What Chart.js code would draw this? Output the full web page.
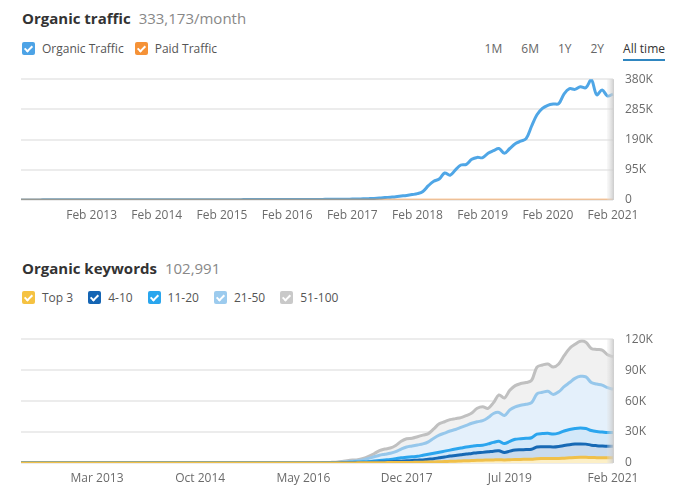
<!DOCTYPE html>
<html>
<head>
<meta charset="utf-8">
<script src="https://cdn.jsdelivr.net/npm/chart.js@4"></script>
<style>
  body { margin: 0; background: #fff; font-family: "Open Sans", "DejaVu Sans", sans-serif; width: 678px; height: 496px; position: relative; overflow: hidden; }
  .title { position: absolute; left: 22px; font-size: 15px; color: #333; font-weight: bold; white-space: nowrap; }
  .title span { font-weight: normal; color: #888; margin-left: 8px; }
  .legend { position: absolute; left: 22px; font-size: 12px; color: #555; display: flex; align-items: center; white-space: nowrap; }
  .legend .item { display: flex; align-items: center; margin-right: 15px; }
  .box { width: 13px; height: 13px; border-radius: 2px; position: relative; margin-right: 7px; }
  .box:after { content: ""; position: absolute; left: 4px; top: 1.5px; width: 3px; height: 6px; border: solid #fff; border-width: 0 2px 2px 0; transform: rotate(45deg); }
  .range { position: absolute; top: 40px; right: 13px; font-size: 12px; color: #666; display: flex; white-space: nowrap; }
  .range div { margin-left: 19px; padding-bottom: 2px; }
  .range .on { color: #333; border-bottom: 2px solid #2f86c0; }
  canvas { position: absolute; left: 0; }
</style>
</head>
<body>
<div class="title" style="top:8px">Organic traffic<span>333,173/month</span></div>
<div class="legend" style="top:40px">
  <div class="item" style="margin-right:11px"><div class="box" style="background:#4da3e6"></div>Organic Traffic</div>
  <div class="item"><div class="box" style="background:#f59237"></div>Paid Traffic</div>
</div>
<div class="range"><div>1M</div><div>6M</div><div>1Y</div><div>2Y</div><div class="on">All time</div></div>
<canvas id="trafficChart" width="678" height="170" style="top:60px"></canvas>

<div class="title" style="top:258px">Organic keywords<span>102,991</span></div>
<div class="legend" style="top:289px">
  <div class="item"><div class="box" style="background:#f5c242"></div>Top 3</div>
  <div class="item"><div class="box" style="background:#1565b4"></div>4-10</div>
  <div class="item"><div class="box" style="background:#2aa6ee"></div>11-20</div>
  <div class="item"><div class="box" style="background:#9ccbee"></div>21-50</div>
  <div class="item"><div class="box" style="background:#c9c9c9"></div>51-100</div>
</div>
<canvas id="keywordChart" width="678" height="170" style="top:320px"></canvas>

<script>
// 月ラベル (Jan 2012 - Feb 2021)
const monthNames = ['Jan', 'Feb', 'Mar', 'Apr', 'May', 'Jun', 'Jul', 'Aug', 'Sep', 'Oct', 'Nov', 'Dec'];
const firstYear = 2012;
const monthCount = 110;

// 流入数
const organicTraffic = [
  300, 320, 350, 380, 400, 420, 450, 470, 500, 520, 540, 560,
  580, 600, 620, 640, 660, 680, 700, 720, 740, 760, 780, 800,
  820, 840, 860, 880, 900, 920, 940, 960, 980, 1000, 1000, 1050,
  1050, 1100, 1100, 1150, 1150, 1200, 1200, 1250, 1250, 1300, 1300, 1350,
  1400, 1450, 1500, 1550, 1600, 1700, 1800, 1900, 2000, 2100, 2200, 2400,
  2600, 2900, 3200, 3600, 4200, 4900, 6000, 7500, 9000, 10500, 12500, 14500,
  17000, 20000, 27000, 45000, 59000, 66000, 85000, 78000, 95000, 110000, 112000, 128000,
  134000, 133000, 147000, 155000, 162000, 147000, 162000, 177000, 185000, 193000, 232000, 268000,
  288000, 298000, 302000, 303000, 334000, 350000, 348000, 356000, 353000, 379000, 331000, 346000,
  327000, 333173
];
const paidTraffic = [
  0, 0, 0, 0, 0, 0, 0, 0, 0, 0, 0, 0,
  0, 0, 0, 0, 0, 0, 0, 0, 0, 0, 0, 0,
  0, 0, 0, 0, 0, 0, 0, 0, 0, 0, 0, 0,
  0, 0, 0, 0, 0, 0, 0, 0, 0, 0, 0, 0,
  0, 0, 0, 0, 0, 0, 0, 0, 0, 0, 0, 0,
  0, 0, 0, 0, 0, 0, 0, 0, 0, 0, 0, 0,
  0, 0, 0, 0, 0, 0, 0, 0, 0, 0, 0, 0,
  0, 0, 0, 0, 0, 0, 0, 0, 0, 0, 0, 0,
  0, 0, 0, 0, 0, 0, 0, 0, 0, 0, 0, 0,
  0, 0
];
const trafficTicks = [0, 95000, 190000, 285000, 380000];

// キーワード数 (順位ごと、累積)
const top3 = [
  5, 5, 5, 5, 5, 5, 6, 6, 6, 6, 6, 6,
  7, 7, 7, 7, 7, 7, 8, 8, 8, 8, 8, 8,
  9, 9, 9, 9, 9, 9, 10, 10, 10, 10, 10, 10,
  11, 11, 11, 11, 11, 11, 12, 12, 12, 12, 12, 12,
  13, 13, 14, 14, 15, 15, 16, 18, 20, 25, 30, 50,
  80, 100, 130, 160, 200, 250, 300, 350, 400, 450, 500, 550,
  600, 700, 800, 900, 1000, 1200, 1400, 1600, 1800, 2000, 2200, 2400,
  2600, 2700, 2900, 3000, 3100, 3000, 3200, 3400, 3500, 3600, 3700, 4200,
  4300, 4300, 4300, 4400, 4700, 5000, 5300, 5500, 5500, 5300, 5200, 5100,
  5000, 5000
];
const top10 = [
  15, 15, 15, 15, 15, 15, 18, 18, 18, 18, 18, 18,
  20, 20, 20, 20, 20, 20, 22, 22, 22, 22, 22, 22,
  25, 25, 25, 25, 25, 25, 28, 28, 28, 28, 28, 28,
  30, 30, 30, 30, 30, 30, 33, 33, 33, 33, 33, 33,
  35, 35, 38, 38, 40, 40, 45, 50, 55, 65, 80, 150,
  220, 300, 380, 450, 550, 700, 850, 1000, 1200, 1500, 1800, 2100,
  2400, 2700, 3000, 3600, 4200, 5000, 5800, 6700, 7300, 8000, 8700, 9300,
  10000, 10300, 10800, 11500, 11800, 10200, 11500, 12500, 12800, 13000, 13300, 15500,
  15800, 15800, 15500, 16000, 17000, 17800, 18300, 18500, 18300, 17300, 16800, 16500,
  16300, 16300
];
const top20 = [
  30, 30, 30, 30, 35, 35, 35, 35, 40, 40, 40, 40,
  45, 45, 45, 45, 50, 50, 50, 50, 55, 55, 55, 55,
  60, 60, 60, 60, 65, 65, 65, 65, 70, 70, 70, 70,
  75, 75, 75, 75, 80, 80, 80, 80, 85, 85, 85, 85,
  90, 90, 95, 95, 100, 100, 110, 120, 140, 170, 200, 400,
  600, 800, 1000, 1200, 1500, 2000, 2500, 3000, 3500, 4200, 5000, 5500,
  6000, 6500, 7500, 8500, 9500, 10500, 11500, 12500, 13500, 14500, 15500, 16300,
  17000, 17200, 18500, 20000, 21000, 18800, 21000, 23000, 23500, 24000, 24500, 28000,
  28500, 28800, 28000, 29000, 31000, 32500, 33500, 34000, 33500, 31500, 30500, 30000,
  29500, 29500
];
const top50 = [
  80, 80, 85, 85, 90, 90, 95, 95, 100, 100, 105, 105,
  110, 110, 115, 115, 120, 120, 125, 125, 130, 130, 135, 135,
  140, 140, 145, 145, 150, 150, 155, 155, 160, 160, 165, 165,
  170, 170, 175, 175, 180, 180, 185, 185, 190, 190, 195, 195,
  200, 210, 220, 230, 240, 250, 270, 290, 320, 380, 500, 900,
  1300, 1700, 2200, 3000, 4500, 6000, 7500, 8500, 9500, 11000, 13500, 15500,
  16500, 17500, 18500, 20500, 24000, 27000, 29000, 31000, 32500, 34500, 36500, 38500,
  40000, 41000, 44000, 48000, 49000, 46000, 51500, 54500, 56000, 57000, 58500, 67000,
  68500, 69500, 66500, 69000, 74000, 78000, 82000, 84000, 83500, 78000, 76500, 75500,
  73000, 71500
];
const top100 = [
  150, 150, 160, 160, 170, 170, 180, 180, 190, 190, 200, 200,
  210, 210, 220, 220, 230, 230, 240, 240, 250, 250, 260, 260,
  270, 270, 280, 280, 290, 290, 300, 300, 310, 310, 320, 320,
  330, 330, 340, 340, 350, 350, 360, 360, 370, 370, 380, 380,
  400, 420, 440, 460, 480, 500, 520, 540, 560, 600, 800, 1500,
  2200, 2800, 3200, 4500, 6500, 9000, 12000, 13500, 14500, 17000, 21000, 23500,
  24000, 25500, 27000, 28500, 33000, 38000, 40000, 42000, 43000, 44000, 46000, 48500,
  53000, 54500, 53000, 58500, 66000, 63000, 70500, 75000, 77000, 78000, 80000, 93000,
  95000, 96000, 93000, 96000, 104000, 111000, 115000, 118000, 117000, 111000, 110000, 109500,
  105000, 103000
];
const keywordTicks = [0, 30000, 60000, 90000, 120000];

const months = [];
for (let i = 0; i < monthCount; i++) {
  months.push(monthNames[i % 12] + ' ' + (firstYear + Math.floor(i / 12)));
}

const tickFont = { family: '"Open Sans", sans-serif', size: 12 };

function kLabel(v) {
  return v === 0 ? '0' : (v / 1000) + 'K';
}

// 右端のグレーの帯
const edgeShade = {
  id: 'edgeShade',
  afterDatasetsDraw(chart) {
    const ctx = chart.ctx;
    const a = chart.chartArea;
    const g = ctx.createLinearGradient(a.right - 6, 0, a.right + 1, 0);
    g.addColorStop(0, 'rgba(225,225,225,0.2)');
    g.addColorStop(1, 'rgba(200,200,200,0.95)');
    ctx.save();
    ctx.fillStyle = g;
    ctx.fillRect(a.right - 6, a.top, 7, a.bottom - a.top);
    ctx.restore();
  }
};

function baseOptions(yTicks, xHeight, padTop, showTick) {
  return {
    responsive: false,
    animation: false,
    layout: { padding: { left: 21, top: padTop, right: 0, bottom: 0 } },
    plugins: { legend: { display: false }, tooltip: { enabled: false } },
    elements: { point: { radius: 0 }, line: { tension: 0.35, borderWidth: 3 } },
    scales: {
      x: {
        grid: { display: false, drawTicks: false },
        border: { display: false },
        ticks: {
          autoSkip: false, maxRotation: 0, padding: 8, color: '#6b6b6b', font: tickFont,
          callback: function (value, index) {
            return showTick(index) ? this.getLabelForValue(value) : '';
          }
        },
        afterFit: (s) => { s.height = xHeight; }
      },
      y: {
        position: 'right',
        min: yTicks[0],
        max: yTicks[yTicks.length - 1],
        afterBuildTicks: (s) => { s.ticks = yTicks.map(v => ({ value: v })); },
        grid: { color: '#ececec', lineWidth: 2, drawTicks: false },
        border: { display: false },
        ticks: { padding: 12, color: '#6b6b6b', font: tickFont, callback: kLabel },
        afterFit: (s) => { s.width = 65; }
      }
    }
  };
}

new Chart(document.getElementById('trafficChart').getContext('2d'), {
  type: 'line',
  data: {
    labels: months,
    datasets: [
      { label: 'Paid Traffic', data: paidTraffic, borderColor: 'rgba(240,140,50,0.45)', fill: false },
      { label: 'Organic Traffic', data: organicTraffic, borderColor: '#4fa6e6', fill: false }
    ]
  },
  options: baseOptions(trafficTicks, 30, 16, (i) => i % 12 === 1 && i > 1),
  plugins: [edgeShade]
});

new Chart(document.getElementById('keywordChart').getContext('2d'), {
  type: 'line',
  data: {
    labels: months,
    datasets: [
      { label: 'Top 3', data: top3, borderColor: '#f0c04a', backgroundColor: '#fcefc6', fill: 'origin' },
      { label: '4-10', data: top10, borderColor: '#1769b5', backgroundColor: '#c9dbee', fill: '-1' },
      { label: '11-20', data: top20, borderColor: '#2ba5ee', backgroundColor: '#d3e8f9', fill: '-1' },
      { label: '21-50', data: top50, borderColor: '#96c7eb', backgroundColor: '#e4f0fb', fill: '-1' },
      { label: '51-100', data: top100, borderColor: '#c0c0c0', backgroundColor: '#f1f1f1', fill: '-1' }
    ]
  },
  options: baseOptions(keywordTicks, 27, 12, (i) => (monthCount - 1 - i) % 19 === 0),
  plugins: [edgeShade]
});
</script>
</body>
</html>
